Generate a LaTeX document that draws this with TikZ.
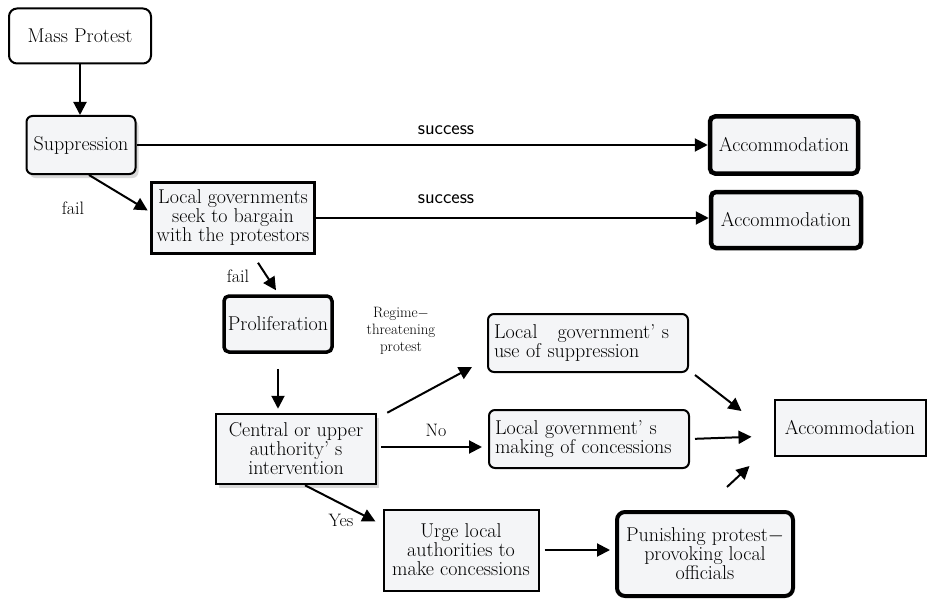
\documentclass[tikz,border=0pt]{standalone}
\usepackage{tikz}
\usetikzlibrary{arrows.meta,shadows}

\definecolor{boxfill}{RGB}{244,245,247}
\newcommand{\boxfont}{\fontsize{20}{19}\selectfont}
\newcommand{\lblfont}{\fontsize{18}{17}\selectfont}

\tikzset{
    box/.style={draw, fill=boxfill, align=center, inner sep=1pt, font=\boxfont, line width=2pt},
    heavy/.style={line width=4.5pt},
    flow/.style={-{Triangle[length=13pt,width=13pt]}, line width=2pt},
    lbl/.style={font=\lblfont, align=center},
    shade/.style={drop shadow={shadow xshift=3pt, shadow yshift=-4pt, opacity=0.3, fill=gray}}
}

\begin{document}
\begin{tikzpicture}[x=1pt,y=-1pt]
    \useasboundingbox (0,0) rectangle (929,599);

    \node[box, fill=white, rounded corners=8pt, minimum width=142pt, minimum height=55pt] (protest) at (80,36) {Mass Protest};
    \node[box, shade, rounded corners=6pt, minimum width=109pt, minimum height=58pt] (suppr) at (81,145) {Suppression};
    \node[box, line width=2.5pt, minimum width=163pt, minimum height=71pt] (bargain) at (233,218) {Local governments\\seek to bargain\\with the protestors};
    \node[box, line width=3.5pt, rounded corners=5pt, minimum width=108pt, minimum height=56pt] (prolif) at (278,324) {Proliferation};
    \node[box, heavy, rounded corners=5pt, minimum width=148pt, minimum height=57pt] (accA) at (784,145) {Accommodation};
    \node[box, heavy, rounded corners=5pt, minimum width=150pt, minimum height=56pt] (accB) at (786,220) {Accommodation};

    \node[box, align=left, rounded corners=6pt, minimum width=200pt, minimum height=58pt, text width=188pt] (usesup) at (588,343) {Local\quad government’\ s\\use of suppression};
    \node[box, align=left, rounded corners=6pt, minimum width=200pt, minimum height=58pt, text width=188pt] (concess) at (589,439) {Local government’\ s\\making of concessions};
    \node[box, minimum width=151pt, minimum height=56pt] (accC) at (850,428) {Accommodation};

    \node[box, shade, line width=2.5pt, minimum width=160pt, minimum height=70pt] (central) at (296,449) {Central or upper\\authority’\ s\\intervention};
    \node[box, minimum width=155pt, minimum height=81pt] (urge) at (461,550) {Urge local\\authorities to\\make concessions};
    \node[box, line width=4pt, rounded corners=8pt, minimum width=176pt, minimum height=84pt] (punish) at (705,554) {Punishing protest$-$\\provoking local\\officials};

    % connectors
    \draw[flow] (protest.south) -- (protest.south |- suppr.north);
    \draw[flow] (suppr) -- (accA);
    \draw[flow, shorten >=3pt] ([xshift=8pt]suppr.south) -- ([yshift=6pt]bargain.west);
    \draw[flow] (bargain.east) -- (bargain.east -| accB.west);
    \draw[flow] ([xshift=25pt,yshift=-8pt]bargain.south) -- ([xshift=-2pt,yshift=4pt]prolif.north);
    \draw[flow, shorten <=15pt, shorten >=4pt] (prolif.south) -- (prolif.south |- central.north);

    \draw[flow] ([xshift=10pt]central.north east) -- ([xshift=-15pt,yshift=6pt]usesup.south west);
    \draw[flow, shorten <=4pt, shorten >=6pt] ([yshift=2pt]central.east) -- ([yshift=2pt]central.east -| concess.west);
    \draw[flow, shorten >=8pt] ([xshift=9pt]central.south) -- ([yshift=25pt]urge.west);
    \draw[flow, shorten <=5pt, shorten >=5pt] (urge.east) -- (urge.east -| punish.west);

    \draw[flow] ([xshift=6pt,yshift=-2pt]usesup.south east) -- ([xshift=-32pt,yshift=-12pt]accC.north west);
    \draw[flow, shorten <=5pt, shorten >=22pt] (concess.east) -- ([yshift=-8pt]accC.west);
    \draw[flow] ([xshift=22pt,yshift=23pt]punish.north) -- ([xshift=-24pt,yshift=-38pt]accC.west);

    % labels
    \node[lbl, font=\fontsize{20}{20}\selectfont\sffamily] (succA) at (446,130) {success};
    \node[lbl, font=\fontsize{20}{20}\selectfont\sffamily] (succB) at (446,199) {success};
    \node[lbl] (failA) at (73,208) {fail};
    \node[lbl] (failB) at (238,276) {fail};
    \node[lbl, font=\fontsize{15}{17}\selectfont] (regime) at (401,331) {Regime$-$\\threatening\\protest};
    \node[lbl] (no) at (436,430) {No};
    \node[lbl] (yes) at (341,520) {Yes};
\end{tikzpicture}
\end{document}
